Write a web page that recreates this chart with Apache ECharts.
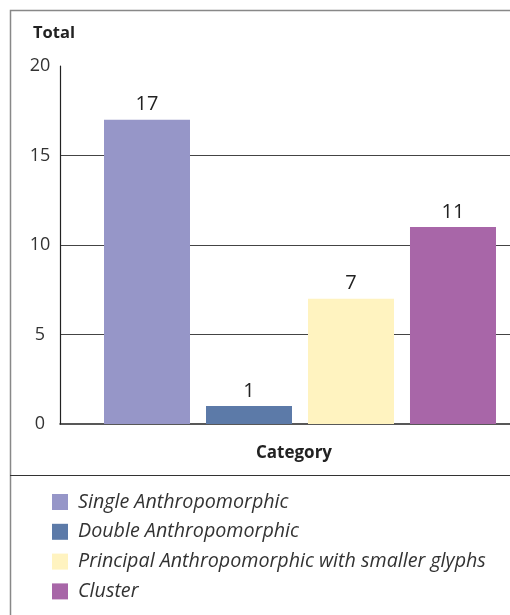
<!DOCTYPE html>
<html>
<head>
<meta charset="utf-8">
<script src="https://cdn.jsdelivr.net/npm/echarts@6/dist/echarts.min.js"></script>
<style>
  html, body { margin: 0; padding: 0; background: #fff; }
  #chart { width: 510px; height: 615px; }
</style>
</head>
<body>
<div id="chart"></div>
<script>
// Figure counts per category
const categoryNames = ['Single Anthropomorphic', 'Double Anthropomorphic', 'Principal Anthropomorphic with smaller glyphs', 'Cluster'];
const totals = [17, 1, 7, 11];
const barColors = ['#9696c8', '#5c7aa8', '#fff3c0', '#a866a8'];
const yTicks = [0, 5, 10, 15, 20];

const FONT = '"Open Sans", "Noto Sans", sans-serif';

const chart = echarts.init(document.getElementById('chart'), null, { renderer: 'canvas' });

// bars live on grid 1 (a narrower band centred under the group); grid 0 carries the visible axes
const series = categoryNames.map((name, i) => ({
  name: name,
  type: 'bar',
  xAxisIndex: 1,
  yAxisIndex: 1,
  data: [totals[i]],
  barWidth: 86,
  barGap: '18.6%',
  itemStyle: { color: barColors[i] },
  label: {
    show: true,
    position: 'top',
    distance: 5,
    color: '#222',
    fontSize: 20,
    fontFamily: FONT
  }
}));

const yMin = yTicks[0];
const yMax = yTicks[yTicks.length - 1];

chart.setOption({
  animation: false,
  backgroundColor: '#fff',
  grid: [
    { left: 60, top: 66, right: 0, bottom: 191, containLabel: false },
    { left: 90, top: 66, right: 0, bottom: 191, containLabel: false }
  ],
  xAxis: [
    {
      type: 'category',
      gridIndex: 0,
      data: ['Category'],
      name: 'Category',
      nameLocation: 'middle',
      nameGap: 21,
      nameTextStyle: { fontFamily: FONT, fontSize: 17, fontWeight: 'bold', color: '#222', padding: [0, 0, 0, 18] },
      axisLine: { show: true, lineStyle: { color: '#222', width: 1.5 } },
      axisTick: { show: false },
      axisLabel: { show: false },
      splitLine: { show: false }
    },
    {
      type: 'category',
      gridIndex: 1,
      data: ['Category'],
      show: false
    }
  ],
  yAxis: [
    {
      type: 'value',
      gridIndex: 0,
      min: yMin,
      max: yMax,
      interval: 5,
      name: 'Total',
      nameLocation: 'end',
      nameGap: 33,
      nameTextStyle: { fontFamily: FONT, fontSize: 16.5, fontWeight: 'bold', color: '#222', align: 'center', verticalAlign: 'middle', padding: [0, 12, 0, 0] },
      axisLine: { show: true, lineStyle: { color: '#222', width: 1.2 } },
      axisTick: { show: false },
      axisLabel: {
        color: '#333', fontSize: 18, fontFamily: FONT, align: 'center', margin: 20,
        padding: [0, 0, 6, 0]
      },
      splitLine: {
        show: true,
        lineStyle: { color: ['transparent', '#444', '#444', '#444', 'transparent'], width: 1 }
      }
    },
    {
      type: 'value',
      gridIndex: 1,
      min: yMin,
      max: yMax,
      interval: 5,
      show: false,
      splitLine: { show: false }
    }
  ],
  legend: {
    orient: 'vertical',
    left: 52,
    top: 492,
    padding: 0,
    itemWidth: 16,
    itemHeight: 16,
    itemGap: 9.8,
    icon: 'rect',
    selectedMode: false,
    textStyle: { fontFamily: FONT, fontStyle: 'italic', fontSize: 19.7, color: '#333', padding: [0, 0, 0, 5] },
    data: categoryNames
  },
  graphic: [
    {
      type: 'polyline',
      silent: true,
      shape: { points: [[10.5, 620], [10.5, 10.5], [520, 10.5]] },
      style: { fill: null, stroke: '#888', lineWidth: 1.5 }
    },
    {
      type: 'line',
      silent: true,
      shape: { x1: 10, y1: 475.5, x2: 520, y2: 475.5 },
      style: { stroke: '#333', lineWidth: 1.2 }
    }
  ],
  series: series
});
</script>
</body>
</html>
